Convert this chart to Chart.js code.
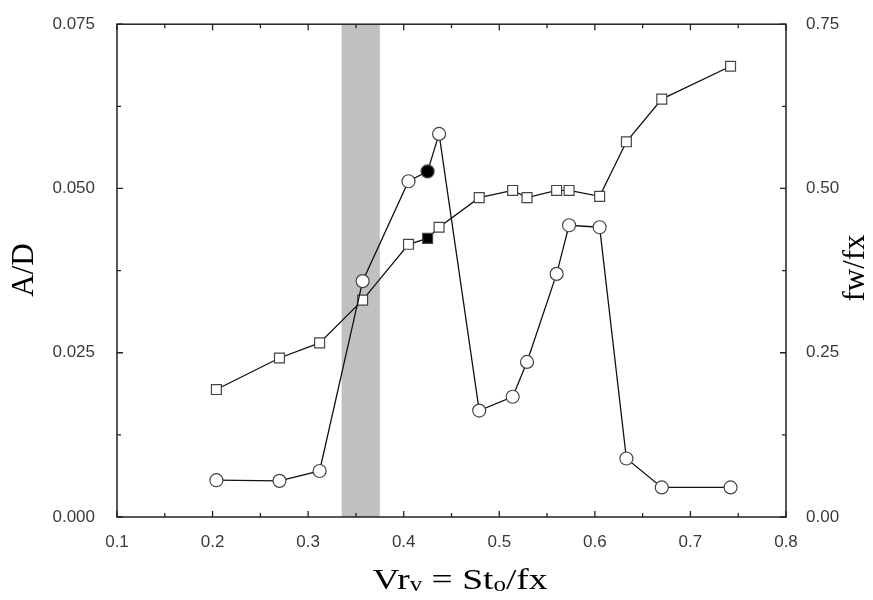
<!DOCTYPE html>
<html>
<head>
<meta charset="utf-8">
<script src="https://cdn.jsdelivr.net/npm/chart.js@4.4.1/dist/chart.umd.min.js"></script>
<style>
  html, body { margin: 0; padding: 0; background: #fff; }
</style>
</head>
<body>
<canvas id="grafico" width="873" height="600"></canvas>
<script>
// Vr_v = St_o / fx (eje x)
const vrValores = [0.204, 0.270, 0.312, 0.357, 0.405, 0.425, 0.437, 0.479, 0.514, 0.529, 0.560, 0.573, 0.605, 0.633, 0.670, 0.742];
// A/D (circulos, eje izquierdo)
const amplitud = [0.0056, 0.0055, 0.0070, 0.0359, 0.0511, 0.0526, 0.0583, 0.0162, 0.0183, 0.0236, 0.0370, 0.0444, 0.0441, 0.0089, 0.0045, 0.0045];
// fw/fx (cuadrados, eje derecho)
const frecuencia = [0.194, 0.242, 0.265, 0.330, 0.415, 0.424, 0.441, 0.486, 0.497, 0.486, 0.497, 0.497, 0.488, 0.571, 0.636, 0.686];
// punto marcado en negro
const indiceLleno = 5;
// franja gris (lock-in)
const franja = [0.335, 0.375];

const xTicks = [0.1, 0.2, 0.3, 0.4, 0.5, 0.6, 0.7, 0.8];
const yTicksIzq = [0.000, 0.025, 0.050, 0.075];
const yTicksDer = [0.00, 0.25, 0.50, 0.75];

const puntosAD = vrValores.map((v, i) => ({ x: v, y: amplitud[i] }));
const puntosFw = vrValores.map((v, i) => ({ x: v, y: frecuencia[i] }));

const relleno = ctx => ctx.dataIndex === indiceLleno ? '#000' : '#fff';

// franja gris detras de los datos
const franjaPlugin = {
    id: 'franja',
    beforeDatasetsDraw(chart) {
        const { ctx, chartArea, scales } = chart;
        const x0 = scales.x.getPixelForValue(franja[0]);
        const x1 = scales.x.getPixelForValue(franja[1]);
        ctx.save();
        ctx.fillStyle = '#c0c0c0';
        ctx.fillRect(x0, chartArea.top, x1 - x0, chartArea.bottom - chartArea.top);
        ctx.restore();
    }
};

// marco, ticks hacia adentro y titulos
const marcoPlugin = {
    id: 'marco',
    afterDraw(chart) {
        const { ctx, chartArea: a, scales } = chart;
        ctx.save();
        ctx.strokeStyle = '#222';
        ctx.lineWidth = 1.5;
        ctx.strokeRect(a.left, a.top, a.right - a.left, a.bottom - a.top);

        ctx.lineWidth = 1.3;
        ctx.beginPath();
        // ticks x (mayores cada 0.1, menores cada 0.05)
        for (let k = 0; k <= 14; k++) {
            const v = 0.1 + k * 0.05;
            const px = scales.x.getPixelForValue(v);
            const len = k % 2 === 0 ? 6 : 4;
            ctx.moveTo(px, a.bottom); ctx.lineTo(px, a.bottom - len);
            ctx.moveTo(px, a.top); ctx.lineTo(px, a.top + len);
        }
        // ticks y
        for (let k = 0; k <= 6; k++) {
            const v = k * 0.0125;
            const py = scales.y.getPixelForValue(v);
            const len = k % 2 === 0 ? 6 : 4;
            ctx.moveTo(a.left, py); ctx.lineTo(a.left + len, py);
            ctx.moveTo(a.right, py); ctx.lineTo(a.right - len, py);
        }
        ctx.stroke();

        ctx.fillStyle = '#000';
        ctx.textAlign = 'center';
        ctx.textBaseline = 'middle';
        ctx.font = '31px "Liberation Serif"';

        ctx.save();
        ctx.translate(25, 270);
        ctx.rotate(-Math.PI / 2);
        ctx.fillText('A/D', 0, 0);
        ctx.restore();

        ctx.save();
        ctx.translate(856, 268);
        ctx.rotate(-Math.PI / 2);
        ctx.fillText('fw/fx', 0, 0);
        ctx.restore();

        // Vr_v = St_o/fx con subindices
        const partes = [
            { t: 'Vr', sub: false },
            { t: 'v', sub: true },
            { t: ' = St', sub: false },
            { t: 'o', sub: true },
            { t: '/fx', sub: false }
        ];
        const fNormal = '30px "Liberation Serif"';
        const fSub = '20px "Liberation Serif"';
        const estirar = 1.25;
        let total = 0;
        partes.forEach(p => { ctx.font = p.sub ? fSub : fNormal; total += ctx.measureText(p.t).width; });
        ctx.save();
        ctx.translate(460, 0);
        ctx.scale(estirar, 1);
        let x = -total / 2;
        ctx.textAlign = 'left';
        ctx.textBaseline = 'alphabetic';
        partes.forEach(p => {
            ctx.font = p.sub ? fSub : fNormal;
            ctx.fillText(p.t, x, p.sub ? 591 : 589);
            x += ctx.measureText(p.t).width;
        });
        ctx.restore();
        ctx.restore();
    }
};

const fuenteTicks = { family: 'Liberation Sans', size: 17 };

new Chart(document.getElementById('grafico'), {
    type: 'line',
    data: {
        datasets: [
            {
                label: 'A/D',
                data: puntosAD,
                yAxisID: 'y',
                borderColor: '#111',
                borderWidth: 1.3,
                pointStyle: 'circle',
                pointRadius: 6.5,
                pointBorderColor: '#444',
                pointBorderWidth: 1.2,
                pointBackgroundColor: relleno
            },
            {
                label: 'fw/fx',
                data: puntosFw,
                yAxisID: 'y2',
                borderColor: '#111',
                borderWidth: 1.3,
                pointStyle: 'rect',
                pointRadius: 7,
                pointBorderColor: '#444',
                pointBorderWidth: 1.2,
                pointBackgroundColor: relleno
            }
        ]
    },
    options: {
        responsive: false,
        animation: false,
        devicePixelRatio: 1,
        layout: { padding: { top: 22, left: 0, right: 0, bottom: 0 } },
        plugins: {
            legend: { display: false },
            tooltip: { enabled: false }
        },
        scales: {
            x: {
                type: 'linear',
                min: xTicks[0],
                max: xTicks[xTicks.length - 1],
                afterBuildTicks: s => { s.ticks = xTicks.map(v => ({ value: v })); },
                grid: { display: false },
                border: { display: false },
                ticks: {
                    padding: 7,
                    color: '#3a3a3a',
                    font: fuenteTicks,
                    callback: v => v.toFixed(1)
                },
                afterFit: s => { s.height = 83; }
            },
            y: {
                position: 'left',
                min: yTicksIzq[0],
                max: yTicksIzq[yTicksIzq.length - 1],
                afterBuildTicks: s => { s.ticks = yTicksIzq.map(v => ({ value: v })); },
                grid: { display: false },
                border: { display: false },
                ticks: {
                    padding: 14,
                    color: '#3a3a3a',
                    font: fuenteTicks,
                    callback: v => v.toFixed(3)
                },
                afterFit: s => { s.width = 117; }
            },
            y2: {
                position: 'right',
                min: yTicksDer[0],
                max: yTicksDer[yTicksDer.length - 1],
                afterBuildTicks: s => { s.ticks = yTicksDer.map(v => ({ value: v })); },
                grid: { display: false },
                border: { display: false },
                ticks: {
                    padding: 12,
                    color: '#3a3a3a',
                    font: fuenteTicks,
                    callback: v => v.toFixed(2)
                },
                afterFit: s => { s.width = 87; }
            }
        }
    },
    plugins: [franjaPlugin, marcoPlugin]
});
</script>
</body>
</html>
